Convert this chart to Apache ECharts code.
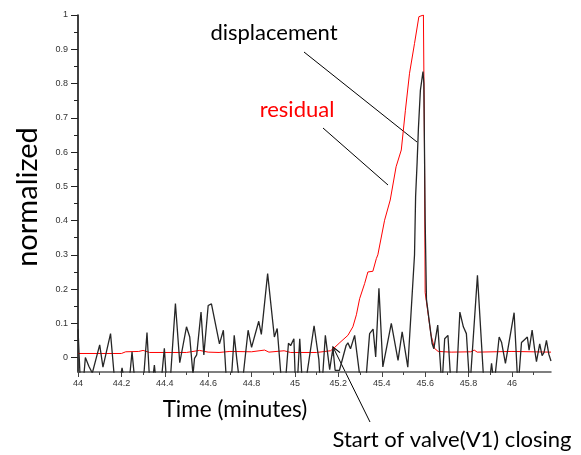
<!DOCTYPE html>
<html>
<head>
<meta charset="utf-8">
<script src="https://cdn.jsdelivr.net/npm/echarts@6/dist/echarts.min.js"></script>
<style>
  html, body { margin: 0; padding: 0; background: #fff; }
  #main { width: 581px; height: 455px; }
</style>
</head>
<body>
<div id="main"></div>
<script>
// tick labels
var xTicks = [44, 44.2, 44.4, 44.6, 44.8, 45, 45.2, 45.4, 45.6, 45.8, 46];
var xMinor = [44.1, 44.3, 44.5, 44.7, 44.9, 45.1, 45.3, 45.5, 45.7, 45.9, 46.1];
var yTicks = [0, 0.1, 0.2, 0.3, 0.4, 0.5, 0.6, 0.7, 0.8, 0.9, 1];
var yMinor = [0.05, 0.15, 0.25, 0.35, 0.45, 0.55, 0.65, 0.75, 0.85, 0.95];

// displacement (values under the axis get clipped)
var dispTime = [44.000, 44.012, 44.026, 44.034, 44.050, 44.066, 44.100, 44.115, 44.150, 44.172,
    44.192, 44.203, 44.214, 44.236, 44.249, 44.265, 44.300, 44.318, 44.332, 44.345,
    44.352, 44.360, 44.385, 44.398, 44.410, 44.425, 44.449, 44.469, 44.500, 44.515,
    44.530, 44.537, 44.547, 44.567, 44.580, 44.600, 44.615, 44.652, 44.670, 44.686,
    44.705, 44.720, 44.732, 44.748, 44.760, 44.784, 44.800, 44.833, 44.845, 44.874,
    44.905, 44.918, 44.940, 44.955, 44.970, 44.980, 44.995, 45.003, 45.012, 45.022,
    45.035, 45.050, 45.088, 45.110, 45.118, 45.128, 45.140, 45.160, 45.175, 45.185,
    45.205, 45.236, 45.244, 45.256, 45.275, 45.306, 45.325, 45.344, 45.360, 45.372,
    45.387, 45.405, 45.444, 45.475, 45.494, 45.520, 45.551, 45.556, 45.563, 45.569,
    45.578, 45.590, 45.594, 45.600, 45.606, 45.610, 45.632, 45.640, 45.658, 45.670,
    45.677, 45.690, 45.705, 45.720, 45.743, 45.760, 45.776, 45.790, 45.806, 45.841,
    45.872, 45.895, 45.906, 45.918, 45.941, 45.952, 45.970, 46.010, 46.028, 46.044,
    46.059, 46.071, 46.079, 46.093, 46.105, 46.113, 46.128, 46.139, 46.148, 46.159,
    46.170, 46.180];
var dispValue = [0.083, -0.09, -0.06, 0.000, -0.025, -0.045, 0.037, -0.028, 0.070, -0.09,
    -0.07, -0.030, -0.07, -0.07, 0.017, -0.09, -0.08, 0.073, -0.09, -0.06,
    -0.022, -0.07, -0.06, 0.027, -0.09, -0.07, 0.158, -0.015, 0.090, 0.060,
    -0.050, -0.002, 0.008, 0.133, 0.008, 0.152, 0.157, 0.040, 0.080, -0.09,
    -0.08, 0.065, -0.005, -0.09, -0.06, 0.080, 0.030, 0.106, 0.068, 0.245,
    0.060, 0.085, -0.09, -0.08, 0.042, 0.035, 0.055, -0.09, -0.06, 0.055,
    -0.09, -0.07, 0.093, -0.005, -0.09, -0.05, 0.065, -0.035, 0.028, -0.037,
    -0.037, 0.036, 0.043, 0.026, 0.065, -0.09, -0.08, 0.070, 0.083, 0.002,
    0.202, -0.027, 0.100, -0.008, 0.075, -0.028, 0.300, 0.470, 0.570, 0.670,
    0.780, 0.835, 0.800, 0.400, 0.170, 0.172, 0.041, 0.026, 0.095, -0.017,
    -0.09, 0.055, 0.065, -0.09, -0.08, 0.133, 0.090, 0.070, -0.09, 0.240,
    -0.09, -0.08, -0.017, -0.08, 0.060, 0.045, -0.017, 0.131, -0.09, 0.044,
    0.053, 0.060, 0.022, 0.080, 0.022, -0.012, 0.040, 0.006, 0.015, 0.050,
    0.010, -0.010];

// residual
var resTime = [44.00, 44.20, 44.22, 44.28, 44.30, 44.33, 44.50, 44.56, 44.60, 44.65,
    44.70, 44.80, 44.86, 44.88, 44.95, 44.98, 45.10, 45.164, 45.18, 45.207,
    45.244, 45.267, 45.283, 45.298, 45.321, 45.336, 45.359, 45.375, 45.382, 45.413,
    45.439, 45.466, 45.490, 45.509, 45.528, 45.551, 45.571, 45.578, 45.592, 45.597,
    45.600, 45.611, 45.627, 45.643, 45.660, 45.720, 45.810, 45.826, 45.840, 46.000,
    46.180];
var resValue = [0.012, 0.012, 0.017, 0.018, 0.021, 0.015, 0.015, 0.021, 0.016, 0.015,
    0.018, 0.017, 0.022, 0.016, 0.020, 0.015, 0.015, 0.020, 0.028, 0.044,
    0.065, 0.090, 0.125, 0.172, 0.216, 0.250, 0.252, 0.289, 0.300, 0.401,
    0.460, 0.557, 0.606, 0.722, 0.830, 0.917, 0.995, 1.000, 1.000, 0.600,
    0.190, 0.140, 0.066, 0.027, 0.018, 0.016, 0.017, 0.022, 0.016, 0.018,
    0.016];

var zip = function(a, b) {
    var out = [];
    for (var i = 0; i < a.length; i++) out.push([a[i], b[i]]);
    return out;
};

var chart = echarts.init(document.getElementById('main'));
var tickFont = {fontFamily: 'Liberation Sans', fontSize: 9, color: '#333'};
var textFont = 'Lato';

var option = {
    animation: false,
    backgroundColor: '#fff',
    grid: {left: 78, right: 30, top: 15, bottom: 83},
    xAxis: [
        {
            type: 'value', min: 44, max: 46.18,
            axisLine: {onZero: false, lineStyle: {color: '#555', width: 1.5}},
            axisTick: {customValues: xTicks, length: 5, lineStyle: {color: '#444'}},
            axisLabel: Object.assign({customValues: xTicks, margin: 7}, tickFont),
            splitLine: {show: false}
        },
        {
            type: 'value', min: 44, max: 46.18, position: 'bottom',
            axisLine: {show: false, onZero: false},
            axisTick: {customValues: xMinor, length: 3, lineStyle: {color: '#444'}},
            axisLabel: {show: false},
            splitLine: {show: false}
        }
    ],
    yAxis: [
        {
            type: 'value', min: -0.042, max: 1,
            axisLine: {show: true, onZero: false, lineStyle: {color: '#000', width: 1.5}},
            axisTick: {show: true, customValues: yTicks, length: 7, lineStyle: {color: '#222'}},
            axisLabel: Object.assign({customValues: yTicks, margin: 10}, tickFont),
            splitLine: {show: false}
        },
        {
            type: 'value', min: -0.042, max: 1, position: 'left',
            axisLine: {show: false, onZero: false},
            axisTick: {show: true, customValues: yMinor, length: 4, lineStyle: {color: '#222'}},
            axisLabel: {show: false},
            splitLine: {show: false}
        }
    ],
    series: [
        {
            name: 'residual', type: 'line', showSymbol: false, symbol: 'none',
            lineStyle: {color: '#ff0000', width: 1},
            data: zip(resTime, resValue)
        },
        {
            name: 'displacement', type: 'line', showSymbol: false, symbol: 'none',
            lineStyle: {color: '#262626', width: 1.3},
            data: zip(dispTime, dispValue)
        }
    ],
    graphic: [
        {type: 'text', x: 28, y: 197, rotation: Math.PI / 2,
            style: {text: 'normalized', font: '29px ' + textFont, fill: '#000', align: 'center', verticalAlign: 'middle'}},
        {type: 'text', x: 235, y: 410,
            style: {text: 'Time (minutes)', font: '22.5px ' + textFont, fill: '#000', align: 'center', verticalAlign: 'middle'}},
        {type: 'text', x: 452, y: 440,
            style: {text: 'Start of valve(V1) closing', font: '22px ' + textFont, fill: '#000', align: 'center', verticalAlign: 'middle'}},
        {type: 'text', x: 274, y: 33,
            style: {text: 'displacement', font: '22px ' + textFont, fill: '#000', align: 'center', verticalAlign: 'middle'}},
        {type: 'text', x: 297, y: 110,
            style: {text: 'residual', font: '22px ' + textFont, fill: '#ff0000', align: 'center', verticalAlign: 'middle'}},
        {type: 'line', shape: {x1: 304, y1: 52, x2: 417, y2: 142}, style: {stroke: '#000', lineWidth: 1}},
        {type: 'line', shape: {x1: 323, y1: 128, x2: 388, y2: 185}, style: {stroke: '#000', lineWidth: 1}},
        {type: 'line', shape: {x1: 370, y1: 422, x2: 333, y2: 347}, style: {stroke: '#000', lineWidth: 1}},
        {type: 'polyline', shape: {points: [[340, 352.6], [333, 347], [333.2, 356]]}, style: {stroke: '#000', lineWidth: 1.2, fill: null}}
    ]
};
chart.setOption(option, true);
</script>
</body>
</html>
